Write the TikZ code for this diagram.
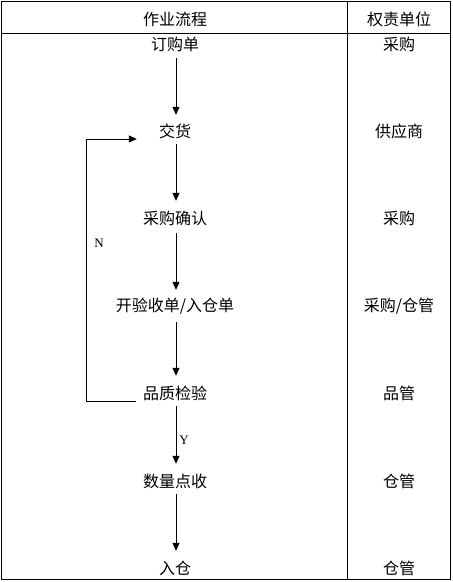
\documentclass[tikz,border=0pt]{standalone}
\usepackage{fontspec}
\newfontfamily\cjk{Noto Sans CJK SC}
\setmainfont{Liberation Serif}
\usetikzlibrary{arrows.meta}
\begin{document}
\begin{tikzpicture}[x=1pt,y=-1pt,
  txt/.style={font=\cjk\fontsize{16}{18}\selectfont, inner sep=0pt, minimum height=32pt, anchor=center},
  rule/.style={line width=1pt, black},
  flow/.style={line width=1pt, black, -{Triangle[length=8pt,width=7pt]}},
  lbl/.style={font=\fontsize{13}{14}\selectfont, inner sep=0pt}]
\useasboundingbox (0,0) rectangle (453,582);
\fill[white] (0,0) rectangle (453,582);
% table
\draw[rule] (1.5,1.5) rectangle (450.5,579);
\draw[rule] (1.5,33) -- (450.5,33);
\draw[rule] (347,1.5) -- (347,579);
% header
\node[txt] (h1) at (175,19) {作业流程};
\node[txt] (h2) at (399,19) {权责单位};
% flow nodes
\node[txt] (s1) at (175,44) {订购单};
\node[txt] (s2) at (175,131) {交货};
\node[txt] (s3) at (175,218) {采购确认};
\node[txt] (s4) at (175,306) {开验收单/入仓单};
\node[txt] (s5) at (175,393) {品质检验};
\node[txt] (s6) at (175,481) {数量点收};
\node[txt] (s7) at (175,568) {入仓};
% responsible units
\node[txt] (r1) at (399,44) {采购};
\node[txt] (r2) at (399,131) {供应商};
\node[txt] (r3) at (399,218) {采购};
\node[txt] (r4) at (399,306) {采购/仓管};
\node[txt] (r5) at (399,393) {品管};
\node[txt] (r6) at (399,481) {仓管};
\node[txt] (r7) at (399,568) {仓管};
% arrows
\draw[flow] ([xshift=1pt,yshift=2pt]s1.south) -- ([xshift=1pt]s2.north);
\draw[flow] ([xshift=1pt,yshift=3pt]s2.south) -- ([xshift=1pt,yshift=1pt]s3.north);
\draw[flow] ([xshift=1pt,yshift=1pt]s3.south) -- ([xshift=1pt,yshift=0pt]s4.north);
\draw[flow] ([xshift=1pt,yshift=0pt]s4.south) -- ([xshift=1pt,yshift=1pt]s5.north);
\draw[flow] ([xshift=1pt,yshift=3pt]s5.south) -- ([xshift=1pt,yshift=1pt]s6.north);
\draw[flow] ([xshift=1pt,yshift=3pt]s6.south) -- ([xshift=1pt,yshift=1pt]s7.north);
% feedback loop
\coordinate (lb) at (86,401);
\coordinate (lt) at (86,139);
\draw[flow] ([shift={(-7,8)}]s5.west) -- (lb) -- (lt) -- ([shift={(-22,8)}]s2.west);
\node[lbl] (n) at (99,243) {N};
\node[lbl] (y) at (184,440) {Y};
\end{tikzpicture}
\end{document}
